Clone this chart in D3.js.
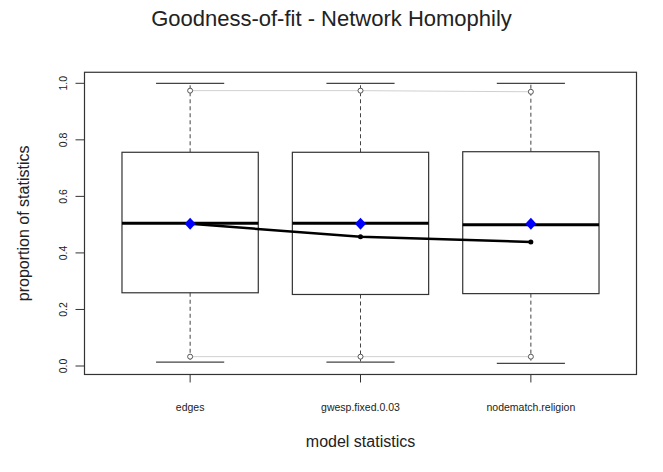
<!DOCTYPE html>
<html>
<head>
<meta charset="utf-8">
<script src="https://cdn.jsdelivr.net/npm/d3@7"></script>
<style>
  body { margin: 0; background: #fff; }
  text { font-family: "Liberation Sans", Arial, sans-serif; fill: #222; }
</style>
</head>
<body>
<svg id="chart" width="663" height="472"></svg>
<script>
const categories = ["edges", "gwesp.fixed.0.03", "nodematch.religion"];
const whiskerLow  = [0.014, 0.014, 0.009];
const q1          = [0.259, 0.253, 0.256];
const median      = [0.505, 0.505, 0.500];
const q3          = [0.756, 0.756, 0.758];
const whiskerHigh = [1.000, 1.000, 1.000];
const ciLow       = [0.033, 0.033, 0.033];
const ciHigh      = [0.974, 0.974, 0.970];
const simMean     = [0.503, 0.503, 0.503];
const observed    = [0.503, 0.457, 0.439];
const yTicks      = [0, 0.2, 0.4, 0.6, 0.8, 1.0];

const svg = d3.select("#chart");
const frameL = 84.5, frameR = 636.5;
const x = d3.scalePoint().domain(categories).range([frameL, frameR]).padding(0.62);
const y = d3.scaleLinear().domain([0, 1]).range([366, 83.3]);
const frameT = y(1.039), frameB = y(-0.030);
const boxHalf = x.step() * 0.4;
const capHalf = x.step() * 0.2;

const data = categories.map((c, i) => ({
  c, lo: whiskerLow[i], q1: q1[i], med: median[i], q3: q3[i], hi: whiskerHigh[i],
  ciL: ciLow[i], ciH: ciHigh[i], mean: simMean[i], obs: observed[i]
}));

// title
svg.append("text").attr("x", 331.5).attr("y", 26).attr("text-anchor", "middle")
  .style("font-size", "22px").text("Goodness-of-fit - Network Homophily");

// whiskers and boxes
const g = svg.append("g");
data.forEach(d => {
  const cx = x(d.c);
  g.append("line").attr("x1", cx).attr("x2", cx).attr("y1", y(d.q3)).attr("y2", y(d.hi))
    .attr("stroke", "#444").attr("stroke-dasharray", "4,3");
  g.append("line").attr("x1", cx).attr("x2", cx).attr("y1", y(d.q1)).attr("y2", y(d.lo))
    .attr("stroke", "#444").attr("stroke-dasharray", "4,3");
  g.append("line").attr("x1", cx - capHalf).attr("x2", cx + capHalf).attr("y1", y(d.hi)).attr("y2", y(d.hi))
    .attr("stroke", "#444").attr("stroke-width", 1.2);
  g.append("line").attr("x1", cx - capHalf).attr("x2", cx + capHalf).attr("y1", y(d.lo)).attr("y2", y(d.lo))
    .attr("stroke", "#444").attr("stroke-width", 1.2);
  g.append("rect").attr("x", cx - boxHalf).attr("width", 2 * boxHalf)
    .attr("y", y(d.q3)).attr("height", y(d.q1) - y(d.q3))
    .attr("fill", "none").attr("stroke", "#333").attr("stroke-width", 1.2);
  g.append("line").attr("x1", cx - boxHalf).attr("x2", cx + boxHalf).attr("y1", y(d.med)).attr("y2", y(d.med))
    .attr("stroke", "#000").attr("stroke-width", 3);
});

// CI gray lines + circles
const line = d3.line().x(d => x(d[0])).y(d => y(d[1]));
svg.append("path").attr("d", line(data.map(d => [d.c, d.ciH]))).attr("fill", "none").attr("stroke", "#d0d0d0");
svg.append("path").attr("d", line(data.map(d => [d.c, d.ciL]))).attr("fill", "none").attr("stroke", "#d0d0d0");
data.forEach(d => {
  [d.ciH, d.ciL].forEach(v => {
    svg.append("circle").attr("cx", x(d.c)).attr("cy", y(v)).attr("r", 2.5)
      .attr("fill", "#fff").attr("stroke", "#555").attr("stroke-width", 1);
  });
});

// observed line
svg.append("path").attr("d", line(data.map(d => [d.c, d.obs]))).attr("fill", "none")
  .attr("stroke", "#000").attr("stroke-width", 2.5);
data.forEach(d => {
  svg.append("circle").attr("cx", x(d.c)).attr("cy", y(d.obs)).attr("r", 2.5).attr("fill", "#000");
});

// blue diamonds (mean)
data.forEach(d => {
  const cx = x(d.c), cy = y(d.mean);
  svg.append("path").attr("d", `M${cx},${cy - 6}L${cx + 5.5},${cy}L${cx},${cy + 6}L${cx - 5.5},${cy}Z`)
    .attr("fill", "#0000ff");
});

// frame
svg.append("rect").attr("x", frameL).attr("y", frameT).attr("width", frameR - frameL).attr("height", frameB - frameT)
  .attr("fill", "none").attr("stroke", "#333").attr("stroke-width", 1.2);

// y axis
const yAxis = svg.append("g");
yTicks.forEach(t => {
  yAxis.append("line").attr("x1", frameL - 9).attr("x2", frameL).attr("y1", y(t)).attr("y2", y(t))
    .attr("stroke", "#333");
  yAxis.append("text").attr("transform", `translate(${frameL - 21},${y(t)}) rotate(-90)`)
    .attr("text-anchor", "middle").attr("dy", "0.35em").style("font-size", "10.5px")
    .text(d3.format(".1f")(t));
});
svg.append("text").attr("transform", `translate(23,${(frameT + frameB) / 2}) rotate(-90)`)
  .attr("text-anchor", "middle").attr("dy", "0.35em").style("font-size", "16px").text("proportion of statistics");

// x axis
categories.forEach(c => {
  svg.append("line").attr("x1", x(c)).attr("x2", x(c)).attr("y1", frameB).attr("y2", frameB + 8).attr("stroke", "#333");
  svg.append("text").attr("x", x(c)).attr("y", 411).attr("text-anchor", "middle")
    .style("font-size", "10.5px").text(c);
});
svg.append("text").attr("x", (frameL + frameR) / 2).attr("y", 447).attr("text-anchor", "middle")
  .style("font-size", "16px").text("model statistics");
</script>
</body>
</html>
